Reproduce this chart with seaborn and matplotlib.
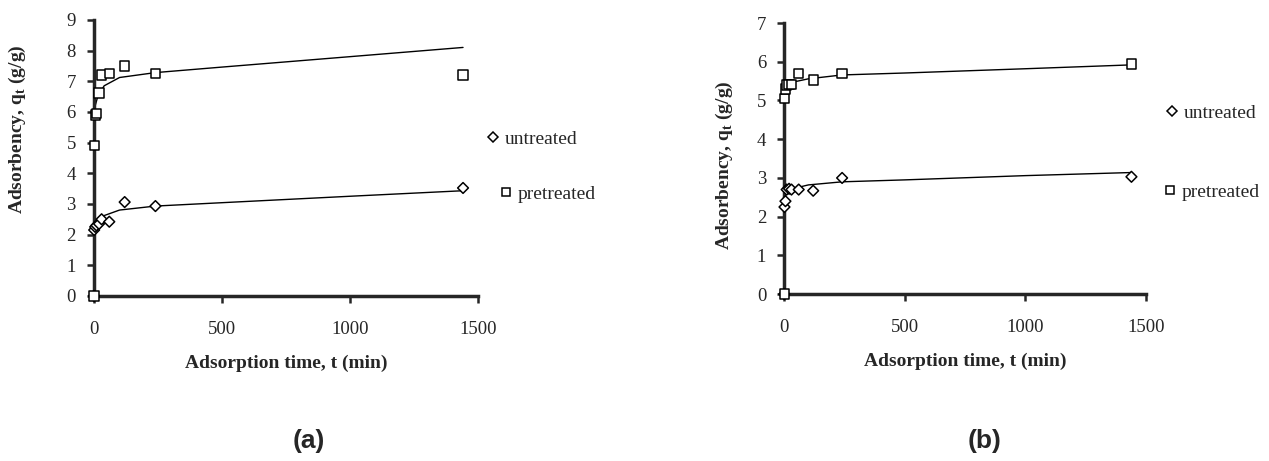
import pandas as pd
import matplotlib
matplotlib.use('Agg')
import matplotlib.pyplot as plt
import seaborn as sns

sns.set_style('ticks')
plt.rcParams['font.family'] = ['Liberation Serif', 'DejaVu Serif']
plt.rcParams['mathtext.fontset'] = 'custom'
plt.rcParams['mathtext.rm'] = 'Liberation Serif:bold'

time = [0, 1, 5, 10, 20, 30, 60, 120, 240, 1440]

a_untreated = [0, 2.15, 2.25, 2.3, 2.35, 2.5, 2.42, 3.06, 2.93, 3.52]
a_pretreated = [0, 4.9, 5.9, 5.95, 6.62, 7.2, 7.25, 7.5, 7.25, 7.2]

b_untreated = [0, 2.25, 2.4, 2.7, 2.72, 2.7, 2.7, 2.67, 3.0, 3.03]
b_pretreated = [0, 5.05, 5.3, 5.4, 5.42, 5.42, 5.69, 5.53, 5.69, 5.94]

# fitted curves
fit_t = [0, 5, 15, 40, 100, 240, 500, 1000, 1440]
a_fit_untreated = [2.15, 2.28, 2.45, 2.62, 2.8, 2.93, 3.04, 3.25, 3.43]
a_fit_pretreated = [5.8, 6.2, 6.5, 6.85, 7.12, 7.28, 7.46, 7.8, 8.1]
b_fit_untreated = [2.43, 2.55, 2.66, 2.73, 2.82, 2.9, 2.95, 3.06, 3.14]
b_fit_pretreated = [5.25, 5.33, 5.41, 5.48, 5.56, 5.66, 5.71, 5.82, 5.92]

fig = plt.figure(figsize=(12.69, 4.61), dpi=100)
ax_a = fig.add_axes([0.074, 0.358, 0.303, 0.599])
ax_b = fig.add_axes([0.618, 0.362, 0.285, 0.588])


def draw(ax, unt, pre, fit_unt, fit_pre, ymax, ylab_xy, leg_pos):
    pts = pd.DataFrame({'t': time * 2, 'q': unt + pre,
                        'series': ['untreated'] * len(time) + ['pretreated'] * len(time)})
    fits = pd.DataFrame({'t': fit_t * 2, 'q': fit_unt + fit_pre,
                         'series': ['untreated'] * len(fit_t) + ['pretreated'] * len(fit_t)})
    sns.lineplot(data=fits, x='t', y='q', units='series', estimator=None,
                 color='black', lw=1.0, ax=ax, legend=False)
    sns.scatterplot(data=pts, x='t', y='q', style='series',
                    markers={'untreated': 'D', 'pretreated': 's'},
                    size='series', sizes={'untreated': 30, 'pretreated': 45},
                    facecolor='white', edgecolor='black', linewidth=1.1,
                    ax=ax, clip_on=False, zorder=5)
    ax.set_xlim(0, 1500)
    ax.set_ylim(0, ymax)
    ax.set_xticks([0, 500, 1000, 1500])
    ax.set_yticks(range(0, ymax + 1))
    sns.despine(ax=ax)
    for sp in ['left', 'bottom']:
        ax.spines[sp].set_linewidth(2.5)
    ax.tick_params(width=1.8, length=5, labelsize=13.5)
    ax.tick_params(axis='x', pad=13)
    ax.tick_params(axis='y', pad=8)
    ax.set_xlabel('Adsorption time, t (min)', fontsize=14, fontweight='bold', labelpad=12)
    ax.set_ylabel('Adsorbency, q$_\\mathrm{t}$ (g/g)', fontsize=14, fontweight='bold')
    ax.yaxis.set_label_coords(*ylab_xy)

    handles, labels = ax.get_legend_handles_labels()
    lookup = dict(zip(labels, handles))
    ax.get_legend().remove()
    legs = []
    for name, xy in zip(['untreated', 'pretreated'], leg_pos):
        h = lookup[name]
        h.set_markersize(5.5)
        leg = ax.legend([h], [name], loc='center left', bbox_to_anchor=xy,
                        frameon=False, fontsize=14, borderaxespad=0, borderpad=0,
                        handlelength=0.6, handletextpad=0.3)
        legs.append(leg)
    ax.add_artist(legs[0])


draw(ax_a, a_untreated, a_pretreated, a_fit_untreated, a_fit_pretreated, 9,
     (-0.172, 0.605), [(1.023, 0.569), (1.057, 0.370)])
draw(ax_b, b_untreated, b_pretreated, b_fit_untreated, b_fit_pretreated, 7,
     (-0.135, 0.476), [(1.055, 0.668), (1.050, 0.376)])

fig.text(0.243, 0.043, '(a)', fontsize=19, fontweight='bold', family='Liberation Sans',
         ha='center', va='center')
fig.text(0.776, 0.043, '(b)', fontsize=19, fontweight='bold', family='Liberation Sans',
         ha='center', va='center')

fig.savefig('out.png', dpi=100)
